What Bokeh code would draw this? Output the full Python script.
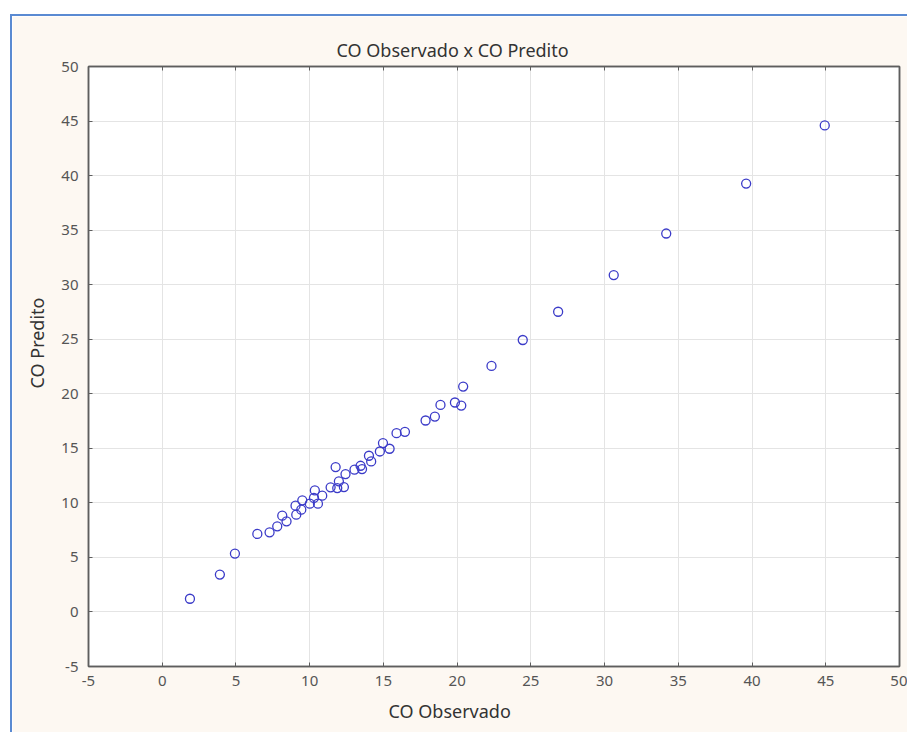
from bokeh.plotting import figure
from bokeh.models import FixedTicker, LinearAxis, Title, Spacer, Range1d
from bokeh.layouts import column, row
from bokeh.embed import file_html
from bokeh.resources import INLINE

co_observado = [1.88, 3.91, 4.93, 6.45, 7.28, 7.80, 8.14, 8.43, 9.04, 9.09,
                9.50, 9.43, 10.01, 10.35, 10.56, 10.29, 10.85, 11.42, 11.76, 11.98,
                11.87, 12.32, 12.43, 13.04, 13.45, 13.55, 14.02, 14.17, 14.76, 14.97,
                15.42, 15.89, 16.46, 17.86, 18.49, 18.87, 19.85, 20.28, 20.41, 22.33,
                24.45, 26.85, 30.62, 34.18, 39.60, 44.93]
co_predito = [1.21, 3.43, 5.35, 7.15, 7.30, 7.85, 8.83, 8.31, 9.74, 8.92,
              10.23, 9.38, 9.93, 11.14, 9.93, 10.45, 10.66, 11.42, 13.28, 11.97,
              11.36, 11.45, 12.64, 13.04, 13.40, 13.10, 14.32, 13.80, 14.71, 15.48,
              14.96, 16.39, 16.51, 17.55, 17.91, 18.98, 19.20, 18.92, 20.66, 22.55,
              24.93, 27.52, 30.88, 34.69, 39.27, 44.60]
tick_values = [-5, 0, 5, 10, 15, 20, 25, 30, 35, 40, 45, 50]
tick_labels = {v: str(v) for v in tick_values}

title_text = "CO Observado x CO Predito"
x_label = "CO Observado"
y_label = "CO Predito"

FONT = "Noto Sans"
CREAM = "#fdf8f2"
FRAME = "#5e5e5e"

p = figure(width=897, height=718,
           x_range=Range1d(-5, 50), y_range=Range1d(-5, 50),
           output_backend="svg", toolbar_location=None,
           min_border_left=76, min_border_right=10,
           min_border_top=50, min_border_bottom=68,
           background_fill_color="white", border_fill_color=CREAM,
           outline_line_color=FRAME, outline_line_width=1.5)

p.title.text = title_text
p.title.align = "left"
p.title.offset = 248
p.title.text_font = FONT
p.title.text_font_size = "18px"
p.title.text_font_style = "normal"
p.title.text_color = "#333333"

ticker = FixedTicker(ticks=tick_values)
for ax in (p.xaxis[0], p.yaxis[0]):
    ax.ticker = ticker
    ax.major_label_overrides = tick_labels
    ax.major_tick_in = 4
    ax.major_tick_out = 0
    ax.minor_tick_line_color = None
    ax.axis_line_color = FRAME
    ax.axis_line_width = 1.5
    ax.major_tick_line_color = FRAME
    ax.major_label_text_font = FONT
    ax.major_label_text_font_size = "15px"
    ax.major_label_text_color = "#555555"
p.xaxis.major_label_standoff = 9
p.yaxis.major_label_standoff = 10

for side in ("above", "right"):
    a = LinearAxis(ticker=ticker, major_tick_in=4, major_tick_out=0,
                   minor_tick_line_color=None, axis_line_color=FRAME,
                   axis_line_width=1.5, major_tick_line_color=FRAME,
                   major_label_overrides={v: "" for v in tick_values},
                   major_label_text_font_size="1px",
                   major_label_standoff=0)
    p.add_layout(a, side)

p.grid.ticker = ticker
p.grid.grid_line_color = "#e4e4e4"
p.grid.grid_line_width = 1

p.add_layout(Title(text=x_label, align="left", offset=300, standoff=17,
                   text_font=FONT, text_font_size="18px", text_font_style="normal",
                   text_color="#333333"), "below")
p.add_layout(Title(text=y_label, align="left", offset=278, standoff=20,
                   text_font=FONT, text_font_size="18px", text_font_style="normal",
                   text_color="#333333"), "left")

p.scatter(co_observado, co_predito, marker="circle", size=9,
          fill_color=None, line_color="#3b3bc8", line_width=1.3)

p.styles = {"border-top": "2px solid #5a8ad2", "border-left": "2px solid #5a8ad2"}

layout = column(Spacer(height=14), row(Spacer(width=10), p))

open("out.html", "w").write(file_html(layout, INLINE))
